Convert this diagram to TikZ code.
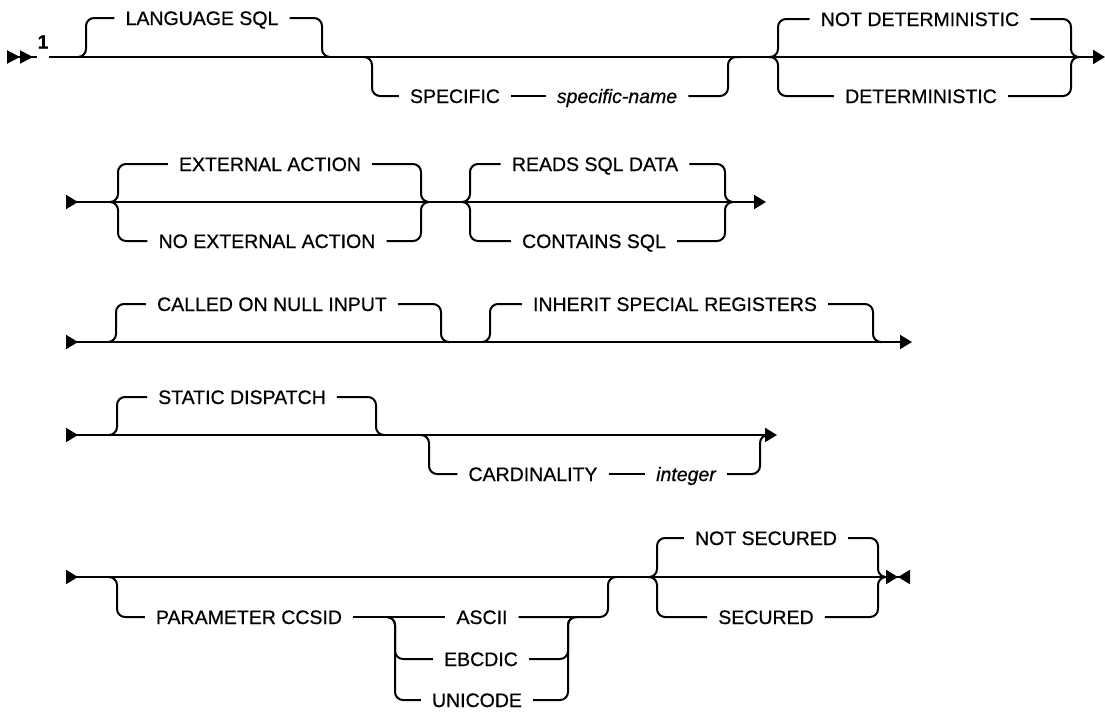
\documentclass[tikz,border=0pt]{standalone}
\usepackage{fontspec}
\setmainfont{Liberation Sans}
\newfontfamily\kwfam{Liberation Sans}[FakeBold=0.6]
\usetikzlibrary{arrows.meta}
\newcommand{\kwfont}{\kwfam\fontsize{19.5}{23}\selectfont}
\tikzset{
  rail/.style={line width=2pt,rounded corners=8pt},
  kw/.style={font=\kwfont,inner xsep=11pt,inner ysep=0pt,text height=14pt,text depth=0pt},
  var/.style={kw,font=\kwfont\itshape},
  rs/.tip={Triangle[reversed,length=12pt,width=14pt]},
  re/.tip={Triangle[length=12pt,width=14pt]},
  dbl/.tip={Triangle[reversed,length=13pt,width=13pt]},
}

\begin{document}
\begin{tikzpicture}[x=1pt,y=-1pt]
\useasboundingbox (0,0) rectangle (1105,713);
% row 1
\coordinate (r1s) at (7,57);
\coordinate (r1e) at (1105,57);
\foreach \n/\x in {j1/78,j2/330,j3/363,j4/740,j5/769,j6/1078}
  \coordinate (\n) at (\x,57);
\node[font=\kwfont\bfseries,inner sep=0pt] (fn1) at (43,42) {1};
\node[kw] (lang) at (202,18) {LANGUAGE SQL};
\node[kw] (spec) at (455,96) {SPECIFIC};
\node[var] (specname) at (617,96) {specific-name};
\node[kw] (notdet) at (920,19) {NOT DETERMINISTIC};
\node[kw] (det) at (921,96) {DETERMINISTIC};
\draw[rail,{dbl[]dbl[]}-] (r1s) -- (fn1.west |- r1s);
\draw[rail,-{re[]}] (fn1.east |- r1s) -- (r1e);
\draw[rail] (j1) -- ++(8,0) |- (lang.west);
\draw[rail] (lang.east) -| ([xshift=-8pt]j2) -- (j2);
\draw[rail] (j3) -- ++(9,0) |- (spec.west);
\draw[rail] (spec) -- (specname);
\draw[rail] (specname.east) -| ([xshift=-12pt]j4) -- (j4);
\foreach \t in {notdet,det}{
  \draw[rail] (j5) -- ++(9,0) |- (\t.west);
  \draw[rail] (\t.east) -| ([xshift=-7pt]j6) -- (j6);
}

% row 2
\coordinate (r2s) at (66,202);
\coordinate (r2e) at (766,202);
\foreach \n/\x in {j7/110,j8/429,j9/462,j10/733}
  \coordinate (\n) at (\x,202);
\node[kw] (extact) at (270,164) {EXTERNAL ACTION};
\node[kw] (noext) at (267,241) {NO EXTERNAL ACTION};
\node[kw] (reads) at (595,164) {READS SQL DATA};
\node[kw] (contains) at (594,241) {CONTAINS SQL};
\draw[rail,{rs[]}-{re[]}] (r2s) -- (r2e);
\foreach \a/\b/\t in {j7/j8/extact,j7/j8/noext,j9/j10/reads,j9/j10/contains}{
  \draw[rail] (\a) -- ++(8,0) |- (\t.west);
  \draw[rail] (\t.east) -| ([xshift=-8pt]\b) -- (\b);
}

% row 3
\coordinate (r3s) at (66,342);
\coordinate (r3e) at (912,342);
\foreach \n/\x in {j11/108,j12/448,j13/482,j14/880}
  \coordinate (\n) at (\x,342);
\node[kw] (called) at (272,304) {CALLED ON NULL INPUT};
\node[kw] (inherit) at (675,304) {INHERIT SPECIAL REGISTERS};
\draw[rail,{rs[]}-{re[]}] (r3s) -- (r3e);
\foreach \a/\b/\t in {j11/j12/called,j13/j14/inherit}{
  \draw[rail] (\a) -- ++(8,0) |- (\t.west);
  \draw[rail] (\t.east) -| ([xshift=-7pt]\b) -- (\b);
}

% row 4
\coordinate (r4s) at (66,435);
\coordinate (r4e) at (777,435);
\foreach \n/\x in {j15/108,j16/384,j17/420,j18/768}
  \coordinate (\n) at (\x,435);
\node[kw] (static) at (242,397) {STATIC DISPATCH};
\node[kw] (card) at (533,474) {CARDINALITY};
\node[var] (integer) at (686,474) {integer};
\draw[rail,{rs[]}-{re[]}] (r4s) -- (r4e);
\draw[rail] (j15) -- ++(9,0) |- (static.west);
\draw[rail] (static.east) -| ([xshift=-8pt]j16) -- (j16);
\draw[rail] (j17) -- ++(9,0) |- (card.west);
\draw[rail] (card) -- (integer);
\draw[rail] (integer.east) -| ([xshift=-8pt]j18) -- (j18);

% row 5
\coordinate (r5s) at (66,577);
\coordinate (r5e) at (910,577);
\foreach \n/\x in {j19/108,j20/617,j21/648,j22/884}
  \coordinate (\n) at (\x,577);
\coordinate (k1) at (387,617);
\coordinate (k2) at (577,617);
\node[kw] (param) at (249,617) {PARAMETER CCSID};
\node[kw] (ascii) at (482,617) {ASCII};
\node[kw] (ebcdic) at (481,659) {EBCDIC};
\node[kw] (unicode) at (477,700) {UNICODE};
\node[kw] (notsec) at (766,538) {NOT SECURED};
\node[kw] (sec) at (766,617) {SECURED};
\draw[rail,{rs[]}-{re[]rs[]}] (r5s) -- (r5e);
\draw[rail] (j19) -- ++(9,0) |- (param.west);
\draw[rail] (param) -- (ascii);
\draw[rail] (ascii.east) -| ([xshift=-9pt]j20) -- (j20);
\foreach \t in {ebcdic,unicode}{
  \draw[rail] (k1) -- ++(8,0) |- (\t.west);
  \draw[rail] (\t.east) -| ([xshift=-9pt]k2) -- (k2);
}
\foreach \t in {notsec,sec}{
  \draw[rail] (j21) -- ++(9,0) |- (\t.west);
  \draw[rail] (\t.east) -| ([xshift=-6pt]j22) -- (j22);
}
\end{tikzpicture}
\end{document}
